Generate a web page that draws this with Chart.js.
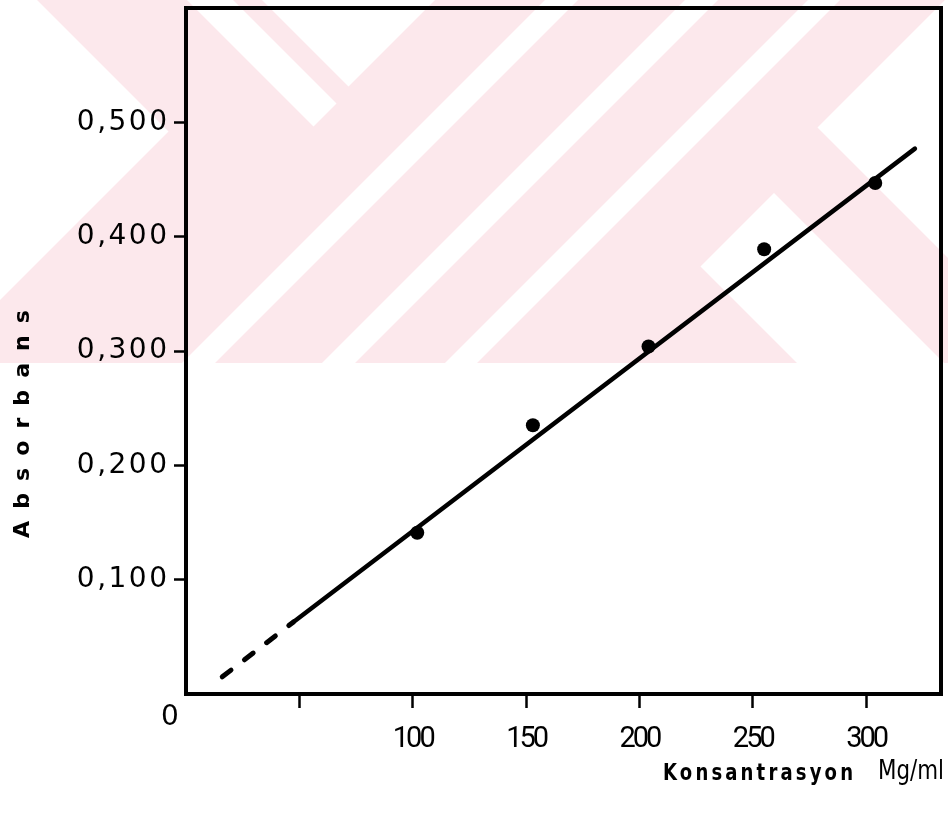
<!DOCTYPE html>
<html><head><meta charset="utf-8">
<script src="https://cdn.jsdelivr.net/npm/chart.js@4"></script>
<style>html,body{margin:0;padding:0;background:#fff;} canvas{display:block;}</style>
</head><body>
<canvas id="c" width="948" height="828"></canvas>
<script>
// ---- data ----
const concentration = [102, 153, 204, 255, 304];
const absorbance = [0.141, 0.235, 0.304, 0.389, 0.447];
const fitSolidX = [47.4, 321.5];
const fitSolidY = [0.063, 0.477];
const fitDashX = [16, 47.4];
const fitDashY = [0.015, 0.063];
const xTickValues = [50, 100, 150, 200, 250, 300];
const xTickLabels = ['', '100', '150', '200', '250', '300'];
const yTickValues = [0.1, 0.2, 0.3, 0.4, 0.5];
const yTickLabels = ['0,100', '0,200', '0,300', '0,400', '0,500'];
const originLabel = '0';
const xTitle = 'Konsantrasyon';
const xUnit = 'Mg/ml';
const yTitle = 'Absorbans';

const toPts = (xs, ys) => xs.map((x, i) => ({x: x, y: ys[i]}));

const watermark = {
  id: 'watermark',
  beforeDraw(chart) {
    const ctx = chart.ctx;
    ctx.save();
    ctx.fillStyle = '#fff';
    ctx.fillRect(0, 0, chart.width, chart.height);
    ctx.beginPath(); ctx.rect(0, 0, chart.width, 363); ctx.clip();
    ctx.fillStyle = 'rgb(252,232,236)';
    ctx.fillRect(0, 0, chart.width, 363);
    ctx.fillStyle = '#fff';
    const B = 4000;
    const regions = [[-B,300,-B,37],[-B,440,187,233],[-B,435,262,B],[545,578,-B,B],[685,718,-B,B],[808,840,-B,B],[967,B,434,581],[945,B,690,B]];
    const P = (u, v) => [(u + v) / 2, (u - v) / 2];
    for (const [u1,u2,v1,v2] of regions) {
      const pts = [P(u1,v1), P(u2,v1), P(u2,v2), P(u1,v2)];
      ctx.beginPath(); ctx.moveTo(pts[0][0], pts[0][1]);
      for (let i = 1; i < 4; i++) ctx.lineTo(pts[i][0], pts[i][1]);
      ctx.closePath(); ctx.fill();
    }
    ctx.restore();
    const patch = (sc, sp) => {
      if (!sc || sc._lsPatched) return;
      const orig = sc.drawLabels;
      sc.drawLabels = function (a) { const c = this.ctx; c.save(); c.letterSpacing = sp; orig.call(this, a); c.restore(); };
      sc._lsPatched = true;
    };
    patch(chart.scales.y, '2.5px');
    patch(chart.scales.x, '-3px');
  }
};

function drawFitted(ctx, text, font, spacing, width, x, y, rot) {
  ctx.save();
  ctx.font = font;
  ctx.letterSpacing = spacing + 'px';
  const w = ctx.measureText(text).width - spacing;
  const s = width / w;
  ctx.translate(x, y);
  if (rot) ctx.rotate(rot);
  ctx.scale(s, 1);
  ctx.textAlign = 'left';
  ctx.textBaseline = 'middle';
  ctx.fillStyle = '#000';
  ctx.fillText(text, 0, 0);
  ctx.restore();
}

const decor = {
  id: 'decor',
  afterDraw(chart) {
    const ctx = chart.ctx;
    const a = chart.chartArea;
    ctx.save();
    ctx.strokeStyle = '#000';
    ctx.lineWidth = 4;
    ctx.beginPath();
    ctx.moveTo(a.left - 2, a.top);
    ctx.lineTo(a.right, a.top);
    ctx.lineTo(a.right, a.bottom + 2);
    ctx.stroke();
    ctx.restore();
    const xs = chart.scales.x;
    ctx.save();
    ctx.font = '28px DejaVu Sans';
    ctx.fillStyle = '#000';
    ctx.textAlign = 'center';
    ctx.textBaseline = 'middle';
    ctx.fillText(originLabel, xs.getPixelForValue(0) - 16, a.bottom + 24);
    ctx.restore();
    drawFitted(ctx, yTitle, 'bold 22px DejaVu Sans', 12, 228, 23, 538, -Math.PI / 2);
    drawFitted(ctx, xTitle, 'bold 23px DejaVu Sans', 4, 190, 663, 774, 0);
    drawFitted(ctx, xUnit, '27px DejaVu Sans', 0, 66, 878, 772, 0);
  }
};

new Chart(document.getElementById('c'), {
  type: 'scatter',
  data: {
    datasets: [
      {label: 'Ölçüm', data: toPts(concentration, absorbance), backgroundColor: '#000', borderColor: '#000', pointRadius: 7, pointBorderWidth: 0, showLine: false},
      {label: 'Doğru', data: toPts(fitSolidX, fitSolidY), showLine: true, borderColor: '#000', borderWidth: 4.5, pointRadius: 0, borderCapStyle: 'round'},
      {label: 'Uzatma', data: toPts(fitDashX, fitDashY), showLine: true, borderColor: '#000', borderWidth: 5, borderDash: [11, 17], pointRadius: 0, borderCapStyle: 'round'}
    ]
  },
  options: {
    responsive: false,
    animation: false,
    devicePixelRatio: 1,
    layout: {padding: {top: 8, right: 3, left: 0, bottom: 0}},
    plugins: {legend: {display: false}, tooltip: {enabled: false}},
    scales: {
      x: {
        type: 'linear', min: 0, max: 333,
        afterBuildTicks: s => { s.ticks = xTickValues.map(v => ({value: v})); },
        afterFit: s => { s.height = 134; s.paddingLeft = 0; s.paddingRight = 0; },
        ticks: {
          callback: v => { const i = xTickValues.indexOf(v); return i >= 0 ? xTickLabels[i] : ''; },
          font: {family: 'Roboto', size: 29}, color: '#000', padding: 14, maxRotation: 0, autoSkip: false
        },
        grid: {drawOnChartArea: false, drawTicks: true, tickLength: 14, tickWidth: 2.5, tickColor: '#000'},
        border: {display: true, width: 4, color: '#000'}
      },
      y: {
        type: 'linear', min: 0, max: 0.6,
        afterBuildTicks: s => { s.ticks = yTickValues.map(v => ({value: v})); },
        afterFit: s => { s.width = 186; s.paddingTop = 0; s.paddingBottom = 0; },
        ticks: {
          callback: v => { const i = yTickValues.findIndex(t => Math.abs(t - v) < 1e-9); return i >= 0 ? yTickLabels[i] : ''; },
          font: {family: 'DejaVu Sans', size: 28}, color: '#000', padding: 4.5, autoSkip: false
        },
        grid: {drawOnChartArea: false, drawTicks: true, tickLength: 12, tickWidth: 2.5, tickColor: '#000'},
        border: {display: true, width: 4, color: '#000'}
      }
    }
  },
  plugins: [watermark, decor]
});
</script>
</body></html>
